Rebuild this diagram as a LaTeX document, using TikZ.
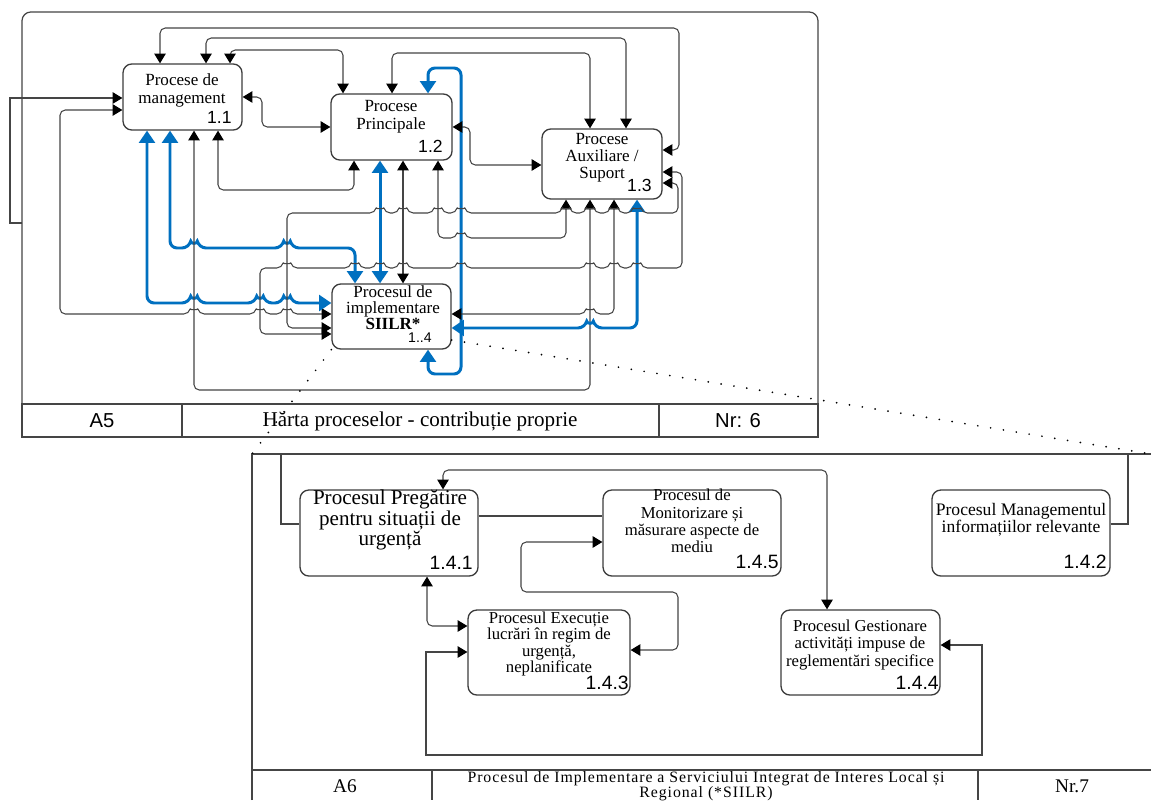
\documentclass[tikz,border=0pt]{standalone}
\usepackage{fontspec}
\setmainfont{Liberation Serif}
\newfontfamily\numfont{Liberation Sans}
\newfontfamily\widefont[LetterSpace=6]{Liberation Serif}
\usetikzlibrary{arrows.meta}
\definecolor{linec}{HTML}{454545}
\definecolor{boxc}{HTML}{3C3C3C}
\definecolor{bluec}{HTML}{0070C0}
\tikzset{
  proc/.style={draw=boxc, line width=0.75pt, rounded corners=5pt, fill=white, inner sep=0pt},
  txt/.style={align=center, inner sep=0pt, text=black},
  num/.style={anchor=east, inner sep=0pt, font=\numfont\fontsize{10}{12}\selectfont},
  numb/.style={anchor=east, inner sep=0pt, font=\numfont\fontsize{11}{13}\selectfont},
  conn/.style={draw=linec, line width=0.6pt, rounded corners=3pt},
  bi/.style={conn, >={Triangle[length=5.5pt,width=6.5pt,color=black]}, <->},
  uni/.style={conn, >={Triangle[length=5.5pt,width=6.5pt,color=black]}, ->},
  blu/.style={draw=bluec, line width=1.7pt, rounded corners=4pt, >={Triangle[length=7pt,width=9pt]}, <->},
  frame/.style={draw=linec, line width=0.7pt},
  dots/.style={draw=black, line width=1.1pt, line cap=round, dash pattern=on 0pt off 7.4pt},
  % small jumps where a horizontal line passes over a vertical one
  hr/.style 2 args={insert path={-- (#1-5,#2) .. controls (#1-4,#2-4) and (#1+4,#2-4) .. (#1+5,#2)}},
  hl/.style 2 args={insert path={-- (#1+5,#2) .. controls (#1+4,#2-4) and (#1-4,#2-4) .. (#1-5,#2)}},
}
\begin{document}
\begin{tikzpicture}[x=0.02cm,y=-0.02cm]
\useasboundingbox (0,0) rectangle (1151,800);
\fill[white] (0,0) rectangle (1151,800);

% ---------- upper sheet: frame and title block ----------
\draw[frame, rounded corners=5pt] (22,404) -- (22,12) -- (818,12) -- (818,404);
\draw[frame] (22,404) rectangle (818,437);
\draw[frame] (182,404) -- (182,437) (659,404) -- (659,437);
\node[font=\numfont\fontsize{11.5}{13}\selectfont] (a5) at (102,421) {A5};
\node[font=\fontsize{12}{14}\selectfont] (t5) at (420,421) {Hărta proceselor - contribuție proprie};
\node[font=\numfont\fontsize{11.5}{13}\selectfont] (nr6) at (738,421) {Nr: 6};

% ---------- upper sheet: processes ----------
\node[proc, minimum width=2.38cm, minimum height=1.32cm] (n11) at (182.5,97) {};
\node[proc, minimum width=2.42cm, minimum height=1.32cm] (n12) at (391.5,127) {};
\node[proc, minimum width=2.40cm, minimum height=1.40cm] (n13) at (602,164) {};
\node[proc, minimum width=2.38cm, minimum height=1.30cm] (n14) at (391.5,316.5) {};

\node[txt, font=\fontsize{9.7}{10.3}\selectfont] (t11) at (182,90) {Procese de\\management};
\node[num] (u11) at (232,117) {1.1};
\node[txt, font=\fontsize{9.7}{10.3}\selectfont] (t12) at (391,117) {Procese\\Principale};
\node[num] (u12) at (443,146) {1.2};
\node[txt, font=\fontsize{9.7}{9.7}\selectfont] (t13) at (602,158) {Procese\\Auxiliare /\\Suport};
\node[num] (u13) at (652,185) {1.3};
\node[txt, font=\fontsize{9.7}{9.2}\selectfont] (t14) at (393,308) {Procesul de\\implementare\\\textbf{SIILR*}};
\node[num, font=\numfont\fontsize{8}{9}\selectfont] (u14) at (432,338) {1..4};

% ---------- upper sheet: connectors ----------
\draw[uni, sharp corners] (22,223) -- (10,223) -- (10,98) -- (n11.west |- 0,98);
\draw[bi] (n11.west |- 0,110) -- (60,110) -- (60,314) [hr={194}{314}] [hr={260}{314}] [hr={287}{314}] -- (n14.west |- 0,314);
\draw[blu] (147,0 |- n11.south) -- (147,303) [hr={194}{303}] [hr={260}{303}] [hr={287}{303}] -- (n14.west |- 0,303);
\draw[blu] (170,0 |- n11.south) -- (170,248) [hr={194}{248}] [hr={287}{248}] -- (355,248) -- (355,0 |- n14.north);
\draw[bi] (194,0 |- n11.south) -- (194,390) -- (590,390) -- (590,0 |- n13.south);
\draw[bi] (218,0 |- n11.south) -- (218,190) -- (354,190) -- (354,0 |- n12.south);
\draw[bi] (n11.east |- 0,97) -- (262,97) -- (262,127) -- (n12.west |- 0,127);
\draw[bi] (160,0 |- n11.north) -- (160,28) -- (679,28) -- (679,150) -- (n13.east |- 0,150);
\draw[bi] (206,0 |- n11.north) -- (206,38) -- (626,38) -- (626,0 |- n13.north);
\draw[bi] (230,0 |- n11.north) -- (230,50) -- (343,50) -- (343,0 |- n12.north);
\draw[bi] (392,0 |- n12.north) -- (392,53) -- (590,53) -- (590,0 |- n13.north);
\draw[blu] (428,0 |- n12.north) -- (428,68) -- (461,68) -- (461,374) -- (428,374) -- (428,0 |- n14.south);
\draw[bi] (n12.east |- 0,127) -- (470,127) -- (470,165) -- (n13.west |- 0,165);
\draw[blu] (380,0 |- n12.south) -- (380,0 |- n14.north);
\draw[bi] (403,0 |- n12.south) -- (403,0 |- n14.north);
\draw[bi] (438,0 |- n12.south) -- (438,238) [hr={461}{238}] -- (566,238) -- (566,0 |- n13.south);
\draw[bi] (614,0 |- n13.south) -- (614,314) [hl={590}{314}] -- (n14.east |- 0,314);
\draw[blu] (637,0 |- n13.south) -- (637,328) [hl={590}{328}] -- (n14.east |- 0,328);
\draw[bi] (n13.east |- 0,172) -- (682,172) -- (682,268) [hl={637}{268}] [hl={614}{268}] [hl={590}{268}] [hl={461}{268}] [hl={403}{268}] [hl={380}{268}] [hl={355}{268}] [hl={287}{268}] -- (260,268) -- (260,334) -- (n14.west |- 0,334);
\draw[bi] (n13.east |- 0,183) -- (678,183) -- (678,213) [hl={637}{213}] [hl={614}{213}] [hl={590}{213}] [hl={566}{213}] [hl={461}{213}] [hl={438}{213}] [hl={403}{213}] [hl={380}{213}] -- (287,213) -- (287,328) -- (n14.west |- 0,328);

% ---------- lower sheet: frame and title block ----------
\coordinate (bl) at (252,454);
\coordinate (br) at (1151,454);
\draw[frame] (252,800) -- (bl) -- (br);
\draw[frame] (252,770) -- (1151,770) (432,770) -- (432,800) (978,770) -- (978,800);
\node[font=\fontsize{11}{13}\selectfont] (a6) at (345,786) {A6};
\node[align=center, inner sep=0pt, anchor=north, font=\widefont\fontsize{9}{8.8}\selectfont] (t6) at (706,771) {Procesul de Implementare a Serviciului Integrat de Interes Local și\\Regional (*SIILR)};
\node[font=\fontsize{11}{13}\selectfont] (nr7) at (1072,786) {Nr.7};

% detail lines from process 1.4 to the lower sheet
\draw[dots] (n14.south west) -- (bl);
\draw[dots] (n14.east |- 0,340) -- (br);

% ---------- lower sheet: sub-processes ----------
\node[proc, minimum width=3.56cm, minimum height=1.72cm] (n141) at (389,533) {};
\node[proc, minimum width=3.56cm, minimum height=1.72cm] (n145) at (692,533) {};
\node[proc, minimum width=3.56cm, minimum height=1.72cm] (n142) at (1021,533) {};
\node[proc, minimum width=3.24cm, minimum height=1.70cm] (n143) at (549,652.5) {};
\node[proc, minimum width=3.18cm, minimum height=1.70cm] (n144) at (860.5,652.5) {};

\node[txt, font=\fontsize{12}{11.7}\selectfont] (t141) at (390,520) {Procesul Pregătire\\pentru situații de\\urgență};
\node[numb] (u141) at (473,563) {1.4.1};
\node[txt, font=\fontsize{9.5}{9.9}\selectfont] (t145) at (692,521) {Procesul de\\Monitorizare și\\măsurare aspecte de\\mediu};
\node[numb] (u145) at (779,562) {1.4.5};
\node[txt, font=\fontsize{10}{9.8}\selectfont] (t142) at (1021,520) {Procesul Managementul\\informațiilor relevante};
\node[numb] (u142) at (1107,562) {1.4.2};
\node[txt, font=\fontsize{9.5}{9.3}\selectfont] (t143) at (549,644) {Procesul Execuție\\lucrări în regim de\\urgență,\\neplanificate};
\node[numb] (u143) at (629,683) {1.4.3};
\node[txt, font=\fontsize{9.5}{10}\selectfont] (t144) at (860,645) {Procesul Gestionare\\activități impuse de\\reglementări specifice};
\node[numb] (u144) at (939,683) {1.4.4};

% ---------- lower sheet: connectors ----------
\draw[conn, sharp corners] (n141.west |- 0,524) -- (281,524) -- (281,454);
\draw[conn] (n141.east |- 0,516) -- (n145.west |- 0,516);
\draw[conn, sharp corners] (n142.east |- 0,524) -- (1128,524) -- (1128,454);
\draw[bi] (827,0 |- n144.north) -- (827,470) -- (443,470) -- (443,0 |- n141.north);
\draw[bi] (427,0 |- n141.south) -- (427,626) -- (n143.west |- 0,626);
\draw[bi] (n143.east |- 0,650) -- (678,650) -- (678,592) -- (521,592) -- (521,542) -- (n145.west |- 0,542);
\draw[bi, sharp corners] (n143.west |- 0,652) -- (426,652) -- (426,755) -- (982,755) -- (982,645) -- (n144.east |- 0,645);
\end{tikzpicture}
\end{document}
